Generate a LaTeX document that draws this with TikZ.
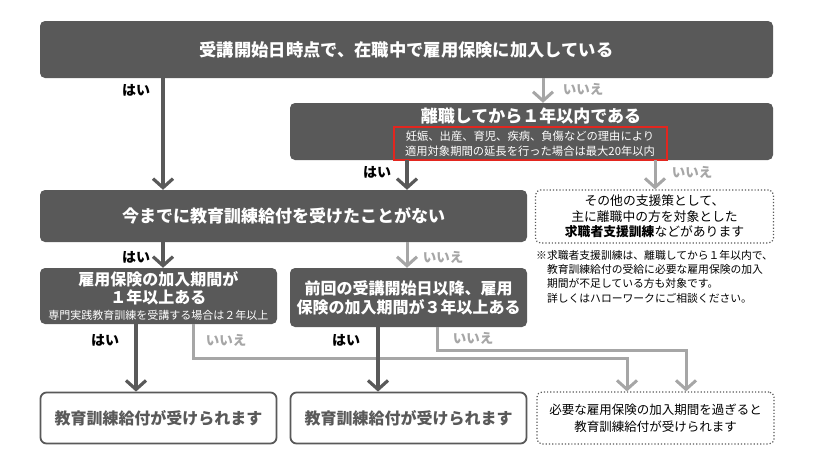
\documentclass[tikz,border=0pt]{standalone}
\usepackage{fontspec}
\setmainfont{Noto Sans CJK JP}
\definecolor{boxgray}{HTML}{595959}
\definecolor{nogray}{HTML}{A6A6A6}
\definecolor{notered}{HTML}{E3261F}
\usetikzlibrary{arrows.meta, calc, positioning}
\tikzset{
	darknode/.style={
			rectangle,
			rounded corners=5pt,
			fill=boxgray,
			text=white,
			align=center,
			inner sep=0pt,
			font=\fontsize{16}{19}\selectfont\bfseries
		},
	rednode/.style={
			rectangle,
			draw=notered,
			line width=2pt,
			fill=boxgray,
			text=white,
			align=center,
			inner sep=0pt,
			font=\fontsize{11.3}{15}\selectfont
		},
	endnode/.style={
			rectangle,
			rounded corners=6pt,
			draw=boxgray,
			line width=1.8pt,
			fill=white,
			text=boxgray,
			minimum width=236pt,
			minimum height=51pt,
			font=\fontsize{16}{19}\selectfont\bfseries
		},
	dotnode/.style={
			rectangle,
			rounded corners=5pt,
			draw=boxgray,
			line width=1.2pt,
			dotted,
			fill=white,
			text=black,
			align=center,
			inner sep=0pt
		},
	yeslabel/.style={
			text=black,
			font=\fontsize{14}{16}\selectfont\bfseries
		},
	nolabel/.style={
			text=nogray,
			font=\fontsize{13.5}{15}\selectfont\bfseries
		},
	yesarrow/.style={
			line width=3.2pt,
			draw=boxgray,
			-{Straight Barb[length=9pt, width=20pt]}
		},
	noarrow/.style={
			line width=3pt,
			draw=nogray,
			-{Straight Barb[length=9pt, width=20pt]}
		}
}

\begin{document}
\begin{tikzpicture}[x=1pt, y=-1pt]
    \useasboundingbox (0,0) rectangle (828,467);

    \node[darknode, minimum width=733pt, minimum height=57pt, font=\fontsize{17.3}{20}\selectfont\bfseries] (q1) at (406.5,49.5) {受講開始日時点で、在職中で雇用保険に加入している};

    \node[darknode, minimum width=483pt, minimum height=57pt] (q2) at (531.5,131.5) {};
    \node[darknode, font=\fontsize{17}{20}\selectfont\bfseries] (q2t) at (531,116) {離職してから１年以内である};
    \node[rednode, minimum width=273pt, minimum height=33pt] (q2n) at (530,143.5) {妊娠、出産、育児、疾病、負傷などの理由により\\適用対象期間の延長を行った場合は最大20年以内};

    \node[darknode, minimum width=487pt, minimum height=52pt, font=\fontsize{17}{20}\selectfont\bfseries] (q3) at (283.5,216) {今までに教育訓練給付を受けたことがない};
    \node[dotnode, minimum width=238pt, minimum height=53pt, font=\fontsize{12.8}{15.5}\selectfont] (o1) at (654.5,216.5) {その他の支援策として、\\主に離職中の方を対象とした\\{\bfseries 求職者支援訓練}などがあります};
    \node[anchor=north west, align=left, inner sep=0pt, font=\fontsize{10.8}{14.3}\selectfont] (memo) at (536,250) {※求職者支援訓練は、離職してから１年以内で、\\\hphantom{※}教育訓練給付の受給に必要な雇用保険の加入\\\hphantom{※}期間が不足している方も対象です。\\\hphantom{※}詳しくはハローワークにご相談ください。};

    \node[darknode, minimum width=237pt, minimum height=56pt] (q4) at (158.5,296) {雇用保険の加入期間が\\[-1pt]１年以上ある\\[-3pt]{\fontsize{11}{13}\selectfont\mdseries 専門実践教育訓練を受講する場合は２年以上}};
    \node[darknode, minimum width=237pt, minimum height=59pt] (q5) at (408.5,297.5) {前回の受講開始日以降、雇用\\保険の加入期間が３年以上ある};

    \node[endnode] (r1) at (158.5,418) {教育訓練給付が受けられます};
    \node[endnode] (r2) at (408.5,418) {教育訓練給付が受けられます};
    \node[dotnode, minimum width=237pt, minimum height=52pt, font=\fontsize{12.5}{17}\selectfont] (r3) at (655.5,418) {必要な雇用保険の加入期間を過ぎると\\教育訓練給付が受けられます};

    \draw[yesarrow] (q1.south -| 163,0) -- (q3.north -| 163,0);
    \node[yeslabel] (y1) at (136,90) {はい};
    \draw[noarrow] (q1.south -| 543,0) -- (q2.north -| 543,0);
    \node[nolabel] (n1) at (583,89) {いいえ};

    \draw[yesarrow] (q2.south -| 407,0) -- (q3.north -| 407,0);
    \node[yeslabel] (y2) at (377,172) {はい};
    \draw[noarrow] (q2.south -| 655,0) -- (o1.north -| 655,0);
    \node[nolabel] (n2) at (692,172) {いいえ};

    \draw[yesarrow] (q3.south -| 163,0) -- (q4.north -| 163,0);
    \node[yeslabel] (y3) at (136,257) {はい};
    \draw[noarrow] (q3.south -| 407,0) -- (q5.north -| 407,0);
    \node[nolabel] (n3) at (443,257) {いいえ};

    \draw[yesarrow] (q4.south -| 136,0) -- (r1.north -| 136,0);
    \node[yeslabel] (y4) at (105,340) {はい};
    \draw[noarrow] (q4.south -| 193,0) |- (627,358) -- (r3.north -| 627,0);
    \node[nolabel] (n4) at (226,340) {いいえ};

    \draw[yesarrow] (q5.south -| 378,0) -- (r2.north -| 378,0);
    \node[yeslabel] (y5) at (346,340) {はい};
    \draw[noarrow] (q5.south -| 437,0) |- (686,350) -- (r3.north -| 686,0);
    \node[nolabel] (n5) at (473,338) {いいえ};
\end{tikzpicture}
\end{document}
